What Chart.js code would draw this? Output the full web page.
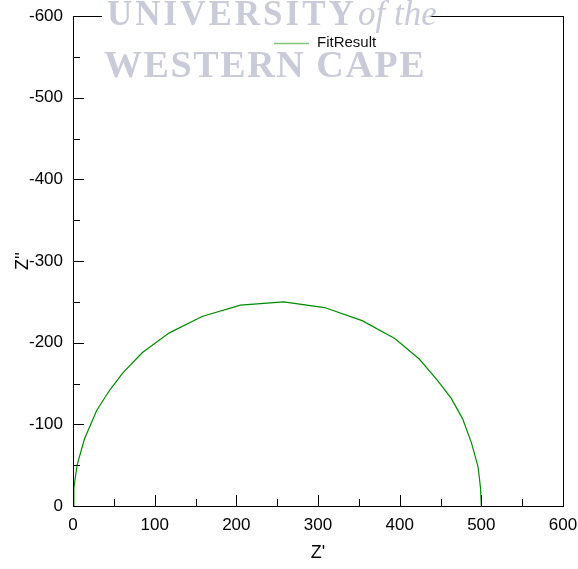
<!DOCTYPE html>
<html>
<head>
<meta charset="utf-8">
<script src="https://cdn.jsdelivr.net/npm/chart.js@4/dist/chart.umd.min.js"></script>
<style>
  html, body { margin: 0; padding: 0; background: #fff; }
  #c { display: block; }
</style>
</head>
<body>
<canvas id="c" width="578" height="569"></canvas>
<script>
(function () {
  // Z' and -Z'' of the fitted semicircle
  var Z_REAL = [0, 1, 5, 14, 29, 45, 61, 85, 118, 158, 205, 258, 308, 354, 394, 424, 446, 463, 477, 488, 496, 499, 500];
  var Z_IMAG = [0, 22, 50, 82, 117, 142, 163, 188, 212, 232, 246, 250, 243, 227, 205, 180, 154, 132, 107, 77, 48, 22, 0];
  var SERIES_LABEL = 'FitResult';
  var X_TICKS = [0, 100, 200, 300, 400, 500, 600];
  var Y_TICKS = [0, 100, 200, 300, 400, 500, 600];
  var MINOR_TICKS = [50, 150, 250, 350, 450, 550];

  var LINE_COLOR = '#008a00';
  var FONT = 'Liberation Sans, Arial, sans-serif';
  var SERIF = 'Liberation Serif, Times New Roman, serif';

  var points = Z_REAL.map(function (x, i) { return { x: x, y: Z_IMAG[i] }; });

  function spaced(c, px) {
    if ('letterSpacing' in c) c.letterSpacing = px + 'px';
  }

  var frameTicksPlugin = {
    id: 'frameTicks',
    afterDraw: function (chart) {
      var c = chart.ctx;
      var a = chart.chartArea;
      var xs = chart.scales.x;
      var ys = chart.scales.y;
      c.save();
      c.strokeStyle = '#000';
      c.lineWidth = 1;
      c.strokeRect(Math.round(a.left) + 0.5, Math.round(a.top) + 0.5,
        Math.round(a.right - a.left), Math.round(a.bottom - a.top));
      c.beginPath();
      X_TICKS.forEach(function (v) {
        var px = Math.round(xs.getPixelForValue(v)) + 0.5;
        c.moveTo(px, a.bottom); c.lineTo(px, a.bottom - 11);
      });
      MINOR_TICKS.forEach(function (v) {
        var px = Math.round(xs.getPixelForValue(v)) + 0.5;
        c.moveTo(px, a.bottom); c.lineTo(px, a.bottom - 7);
      });
      Y_TICKS.forEach(function (v) {
        var py = Math.round(ys.getPixelForValue(v)) + 0.5;
        c.moveTo(a.left, py); c.lineTo(a.left + 11, py);
      });
      MINOR_TICKS.forEach(function (v) {
        var py = Math.round(ys.getPixelForValue(v)) + 0.5;
        c.moveTo(a.left, py); c.lineTo(a.left + 7, py);
      });
      c.stroke();

      // watermark
      c.fillStyle = '#fff';
      c.fillRect(102, 0, 328, 82);
      c.fillStyle = '#cacbd9';
      c.textBaseline = 'alphabetic';
      c.textAlign = 'left';
      c.font = 'bold 35px ' + SERIF;
      spaced(c, 3);
      c.fillText('UNIVERSITY', 107, 25);
      spaced(c, 0);
      c.font = 'italic 35px ' + SERIF;
      c.fillText('of the', 358, 25);
      c.font = 'bold 38px ' + SERIF;
      spaced(c, 1.6);
      c.fillText('WESTERN CAPE', 104, 77);
      spaced(c, 0);

      // legend
      c.globalAlpha = 0.5;
      c.strokeStyle = chart.data.datasets[0].borderColor;
      c.lineWidth = 1.5;
      c.beginPath();
      c.moveTo(274, 43.5); c.lineTo(309, 43.5);
      c.stroke();
      c.globalAlpha = 1;
      c.fillStyle = '#111';
      c.font = '15px ' + FONT;
      c.textBaseline = 'middle';
      c.fillText(chart.data.datasets[0].label, 317, 43);
      c.restore();
    }
  };

  new Chart(document.getElementById('c'), {
    type: 'scatter',
    data: {
      datasets: [{
        label: SERIES_LABEL,
        data: points,
        showLine: true,
        borderColor: LINE_COLOR,
        backgroundColor: LINE_COLOR,
        borderWidth: 1.2,
        pointRadius: 0,
        tension: 0
      }]
    },
    options: {
      responsive: false,
      animation: false,
      layout: { padding: { top: 16, right: 15, left: 0, bottom: 0 } },
      plugins: {
        legend: { display: false },
        tooltip: { enabled: false }
      },
      scales: {
        x: {
          type: 'linear',
          min: 0,
          max: 600,
          afterFit: function (s) { s.height = 63; s.paddingLeft = 0; s.paddingRight = 0; },
          afterBuildTicks: function (s) { s.ticks = X_TICKS.map(function (v) { return { value: v }; }); },
          ticks: { color: '#000', font: { family: FONT, size: 17 }, padding: 9, maxRotation: 0 },
          grid: { display: false, drawTicks: false },
          border: { display: false },
          title: { display: true, text: "Z'", color: '#000', font: { family: FONT, size: 18 }, padding: { top: 0, bottom: 5 } }
        },
        y: {
          type: 'linear',
          min: 0,
          max: 600,
          afterFit: function (s) { s.width = 73; s.paddingTop = 0; s.paddingBottom = 0; },
          afterBuildTicks: function (s) { s.ticks = Y_TICKS.map(function (v) { return { value: v }; }); },
          ticks: {
            color: '#000',
            font: { family: FONT, size: 17 },
            padding: 10,
            callback: function (v) { return v === 0 ? '0' : '-' + v; }
          },
          grid: { display: false, drawTicks: false },
          border: { display: false },
          title: { display: true, text: "Z''", color: '#000', font: { family: FONT, size: 18 }, padding: { top: 12, bottom: 0 } }
        }
      }
    },
    plugins: [frameTicksPlugin]
  });
})();
</script>
</body>
</html>
